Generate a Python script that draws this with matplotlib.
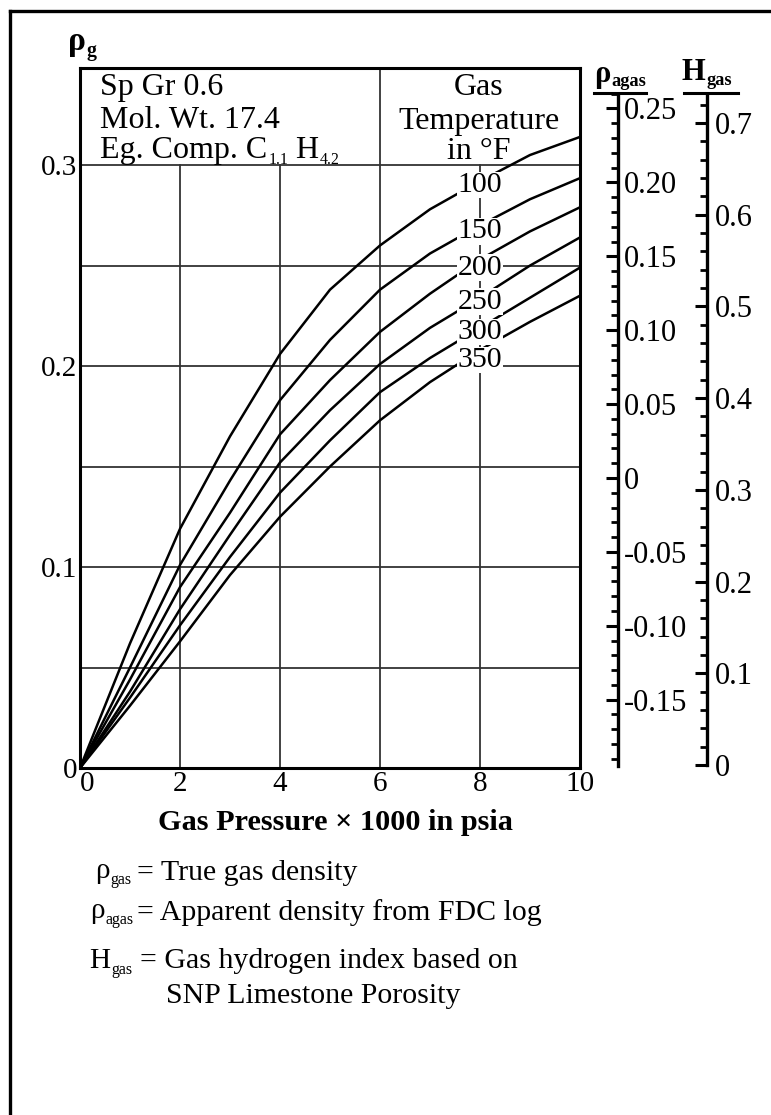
import numpy as np
import matplotlib
matplotlib.use("Agg")
import matplotlib.pyplot as plt
from matplotlib.lines import Line2D
from matplotlib.ticker import FixedLocator

plt.rcParams['font.family'] = ['Liberation Serif', 'DejaVu Serif']

# gas pressure (x 1000 psia) and density for each temperature
pressure = [0, 1, 2, 3, 4, 5, 6, 7, 8, 9, 10]
temps = [100, 150, 200, 250, 300, 350]
rho_100 = [0, 0.062, 0.119, 0.165, 0.206, 0.238, 0.260, 0.278, 0.292, 0.305, 0.314]
rho_150 = [0, 0.050, 0.101, 0.143, 0.183, 0.213, 0.238, 0.256, 0.270, 0.283, 0.2935]
rho_200 = [0, 0.044, 0.090, 0.127, 0.166, 0.193, 0.217, 0.236, 0.253, 0.267, 0.279]
rho_250 = [0, 0.038, 0.079, 0.116, 0.152, 0.178, 0.201, 0.219, 0.234, 0.250, 0.264]
rho_300 = [0, 0.035, 0.071, 0.105, 0.137, 0.163, 0.187, 0.204, 0.219, 0.234, 0.249]
rho_350 = [0, 0.031, 0.063, 0.096, 0.125, 0.150, 0.173, 0.192, 0.208, 0.222, 0.235]
curves = [rho_100, rho_150, rho_200, rho_250, rho_300, rho_350]

x_ticks = [0, 2, 4, 6, 8, 10]
y_ticks = [0, 0.1, 0.2, 0.3]
y_ticklabels = ['0', '0.1', '0.2', '0.3']
agas_ticks = [-0.15, -0.10, -0.05, 0, 0.05, 0.10, 0.15, 0.20, 0.25]
agas_labels = ['-0.15', '-0.10', '-0.05', '0', '0.05', '0.10', '0.15', '0.20', '0.25']
h_ticks = [0, 0.1, 0.2, 0.3, 0.4, 0.5, 0.6, 0.7]
h_labels = ['0', '0.1', '0.2', '0.3', '0.4', '0.5', '0.6', '0.7']

W, H = 771, 1115
fig = plt.figure(figsize=(W / 100, H / 100), dpi=100)
renderer = fig.canvas.get_renderer()


def fx(px):
    return px / W


def fy(py):
    return 1 - py / H


def ftext(px, py, s, **kw):
    return fig.text(fx(px), fy(py), s, **kw)


def fline(x0, y0, x1, y1, lw=2.0):
    fig.add_artist(Line2D([fx(x0), fx(x1)], [fy(y0), fy(y1)], color='black', lw=lw))


def sub_text(px, py, main, sub, size, weight='normal', ratio=0.58, drop=6):
    # main symbol on baseline py, small subscript right after it
    t = ftext(px, py, main, fontsize=size, fontweight=weight, va='baseline')
    w = t.get_window_extent(renderer).width
    t2 = ftext(px + w + 1, py + drop, sub, fontsize=size * ratio, fontweight=weight,
               va='baseline')
    return px + w + 1 + t2.get_window_extent(renderer).width


# outer frame (only top and left edges fall inside the picture)
fline(10, 11, 775, 11, lw=2.4)
fline(10, 11, 10, 1120, lw=2.4)

# main chart
ax = fig.add_axes([fx(80), fy(768), fx(580) - fx(80), fy(68) - fy(768)])
ax.set_xlim(0, 10)
ax.set_ylim(0, 0.3483)
for y in [0.05, 0.10, 0.15, 0.20, 0.25, 0.30]:
    ax.plot([0, 10], [y, y], color='#333333', lw=1.3, zorder=1)
for x in [2, 4, 8]:
    ax.plot([x, x], [0, 0.3], color='#333333', lw=1.3, zorder=1)
ax.plot([6, 6], [0, 0.3483], color='#333333', lw=1.3, zorder=1)

for vals in curves:
    ax.plot(pressure, vals, color='black', lw=1.8, zorder=2, solid_joinstyle='round')

label_y = [0.290, 0.267, 0.249, 0.232, 0.217, 0.203]
for t, ly in zip(temps, label_y):
    ax.text(8, ly, str(t), ha='center', va='center', fontsize=21.5, zorder=4,
            bbox=dict(fc='white', ec='none', pad=0.3))

for s in ax.spines.values():
    s.set_linewidth(2.2)
ax.set_xticks(x_ticks)
ax.set_xticklabels([str(v) for v in x_ticks])
ax.set_yticks(y_ticks)
ax.set_yticklabels(y_ticklabels)
ax.tick_params(length=0, labelsize=21, pad=2)
ax.get_xticklabels()[0].set_horizontalalignment('left')

ftext(100, 95, 'Sp Gr 0.6', fontsize=23, va='baseline')
ftext(100, 128, 'Mol. Wt. 17.4', fontsize=23, va='baseline')
xe = sub_text(100, 158, 'Eg. Comp. C', '1.1', 23, ratio=0.5, drop=6)
sub_text(xe + 7, 158, 'H', '4.2', 23, ratio=0.5, drop=6)
ftext(479, 95, 'Gas', fontsize=23, ha='center', va='baseline')
ftext(479, 129, 'Temperature', fontsize=23, ha='center', va='baseline')
ftext(479, 159, 'in \u00b0F', fontsize=23, ha='center', va='baseline')

sub_text(68, 50, '\u03c1', 'g', 24, weight='bold', ratio=0.6, drop=6)

# apparent density scale
axr = fig.add_axes([fx(598), fy(768), fx(618) - fx(598), fy(68) - fy(768)])
axr.set_ylim(-0.1962, 0.2774)
axr.patch.set_alpha(0)
for k in ['left', 'top', 'bottom']:
    axr.spines[k].set_visible(False)
axr.spines['right'].set_linewidth(2.4)
axr.spines['right'].set_bounds(-0.195, 0.26)
axr.set_xticks([])
axr.yaxis.tick_right()
axr.set_yticks(agas_ticks)
axr.set_yticklabels(agas_labels)
axr.yaxis.set_minor_locator(FixedLocator(np.round(np.arange(-0.19, 0.265, 0.01), 2)))
axr.tick_params(axis='y', which='major', direction='in', length=9, width=2.2, labelsize=22, pad=4)
axr.tick_params(axis='y', which='minor', direction='in', length=5, width=2.0)

# hydrogen index scale
axh = fig.add_axes([fx(687), fy(768), fx(707) - fx(687), fy(68) - fy(768)])
axh.set_ylim(-0.0033, 0.760)
axh.patch.set_alpha(0)
for k in ['left', 'top', 'bottom']:
    axh.spines[k].set_visible(False)
axh.spines['right'].set_linewidth(2.4)
axh.spines['right'].set_bounds(0, 0.73)
axh.set_xticks([])
axh.yaxis.tick_right()
axh.set_yticks(h_ticks)
axh.set_yticklabels(h_labels)
axh.yaxis.set_minor_locator(FixedLocator(np.round(np.arange(0.02, 0.73, 0.02), 2)))
axh.tick_params(axis='y', which='major', direction='in', length=9, width=2.2, labelsize=22, pad=6)
axh.tick_params(axis='y', which='minor', direction='in', length=5, width=2.0)

sub_text(594, 82, '\u03c1', 'agas', 22, weight='bold', ratio=0.6, drop=4)
fline(594, 93, 646, 93, lw=2.2)
sub_text(682, 80, 'H', 'gas', 22, weight='bold', ratio=0.6, drop=5)
fline(684, 93, 738, 93, lw=2.2)

# axis title and key
ftext(335, 823, 'Gas Pressure \u00d7 1000 in psia', fontsize=21.8, fontweight='bold',
      ha='center', va='center')
sub_text(95, 878, '\u03c1', 'gas', 21, ratio=0.55, drop=6)
ftext(137, 880, '= True gas density', fontsize=21.5, va='baseline')
sub_text(90, 918, '\u03c1', 'agas', 21, ratio=0.55, drop=6)
ftext(137, 920, '= Apparent density from FDC log', fontsize=21.5, va='baseline')
sub_text(89, 968, 'H', 'gas', 21, ratio=0.55, drop=6)
ftext(140, 968, '= Gas hydrogen index based on', fontsize=21.5, va='baseline')
ftext(166, 1003, 'SNP Limestone Porosity', fontsize=21.5, va='baseline')

fig.savefig('out.png', dpi=100, facecolor='white')
